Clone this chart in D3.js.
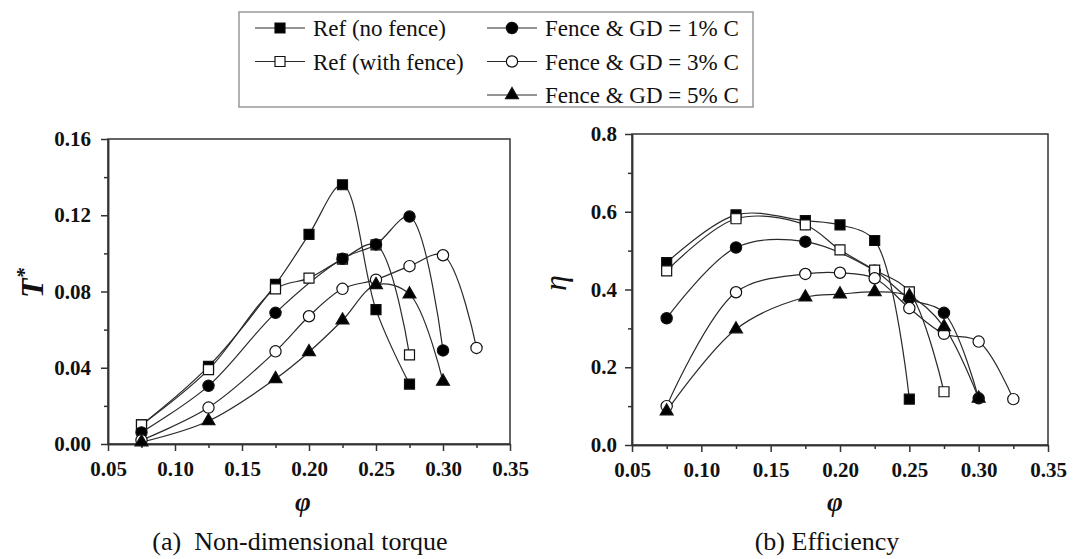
<!DOCTYPE html>
<html>
<head>
<meta charset="utf-8">
<script src="https://cdn.jsdelivr.net/npm/d3@7"></script>
<style>
  body { margin: 0; background: #fff; }
  text { font-family: "Liberation Serif", "Times New Roman", serif; fill: #111; }
</style>
</head>
<body>
<svg id="chart" width="1083" height="559"></svg>
<script>
// ---- data ----
var seriesNames = ["Ref (no fence)", "Ref (with fence)", "Fence & GD = 1% C", "Fence & GD = 3% C", "Fence & GD = 5% C"];

// (a) non-dimensional torque
var torquePhiNoFence = [0.075, 0.125, 0.175, 0.2, 0.225, 0.25, 0.275];
var torqueNoFence    = [0.010, 0.0407, 0.0837, 0.110, 0.136, 0.0705, 0.0314];
var torquePhiWithFence = [0.075, 0.125, 0.175, 0.2, 0.225, 0.25, 0.275];
var torqueWithFence    = [0.010, 0.039, 0.0814, 0.0870, 0.097, 0.1045, 0.0468];
var torquePhiGD1 = [0.075, 0.125, 0.175, 0.225, 0.25, 0.275, 0.3];
var torqueGD1    = [0.0061, 0.0305, 0.0688, 0.0972, 0.1047, 0.1193, 0.0491];
var torquePhiGD3 = [0.075, 0.125, 0.175, 0.2, 0.225, 0.25, 0.275, 0.3, 0.325];
var torqueGD3    = [0.002, 0.0191, 0.0486, 0.067, 0.0814, 0.0862, 0.0933, 0.099, 0.0504];
var torquePhiGD5 = [0.075, 0.125, 0.175, 0.2, 0.225, 0.25, 0.275, 0.3];
var torqueGD5    = [0.001, 0.0121, 0.0342, 0.0483, 0.0649, 0.0835, 0.0786, 0.0328];

// (b) efficiency
var effPhiNoFence = [0.075, 0.125, 0.175, 0.2, 0.225, 0.25];
var effNoFence    = [0.469, 0.592, 0.577, 0.566, 0.526, 0.118];
var effPhiWithFence = [0.075, 0.125, 0.175, 0.2, 0.225, 0.25, 0.275];
var effWithFence    = [0.448, 0.582, 0.566, 0.502, 0.450, 0.394, 0.137];
var effPhiGD1 = [0.075, 0.125, 0.175, 0.225, 0.25, 0.275, 0.3];
var effGD1    = [0.326, 0.508, 0.523, 0.448, 0.377, 0.340, 0.120];
var effPhiGD3 = [0.075, 0.125, 0.175, 0.2, 0.225, 0.25, 0.275, 0.3, 0.325];
var effGD3    = [0.100, 0.393, 0.440, 0.443, 0.429, 0.352, 0.286, 0.266, 0.118];
var effPhiGD5 = [0.075, 0.125, 0.175, 0.2, 0.225, 0.25, 0.275, 0.3];
var effGD5    = [0.087, 0.298, 0.380, 0.388, 0.394, 0.383, 0.304, 0.120];

var phiTicks = [0.05, 0.10, 0.15, 0.20, 0.25, 0.30, 0.35];
var phiMinor = [0.075, 0.125, 0.175, 0.225, 0.275, 0.325];
var torqueTicks = [0.00, 0.04, 0.08, 0.12, 0.16];
var torqueMinor = [0.02, 0.06, 0.10, 0.14];
var effTicks = [0.0, 0.2, 0.4, 0.6, 0.8];
var effMinor = [0.1, 0.3, 0.5, 0.7];

// marker style per series: symbol + filled?
var markers = [
  {sym: d3.symbolSquare, size: 100, fill: "#000"},
  {sym: d3.symbolSquare, size: 100, fill: "#fff"},
  {sym: d3.symbolCircle, size: 100, fill: "#000"},
  {sym: d3.symbolCircle, size: 100, fill: "#fff"},
  {sym: d3.symbolTriangle, size: 72, fill: "#000"}
];

function zipSeries(phis, vals) {
  return phis.map(function(p, i) { return {x: p, y: vals[i]}; });
}

var torqueSeries = [
  zipSeries(torquePhiNoFence, torqueNoFence),
  zipSeries(torquePhiWithFence, torqueWithFence),
  zipSeries(torquePhiGD1, torqueGD1),
  zipSeries(torquePhiGD3, torqueGD3),
  zipSeries(torquePhiGD5, torqueGD5)
];
var effSeries = [
  zipSeries(effPhiNoFence, effNoFence),
  zipSeries(effPhiWithFence, effWithFence),
  zipSeries(effPhiGD1, effGD1),
  zipSeries(effPhiGD3, effGD3),
  zipSeries(effPhiGD5, effGD5)
];

var svg = d3.select("#chart");
var axisColor = "#333";

function drawPanel(opts) {
  var x = d3.scaleLinear().domain([0.05, 0.35]).range([opts.left, opts.right]);
  var y = d3.scaleLinear().domain(opts.yDomain).range([opts.bottom, opts.top]);
  var g = svg.append("g");

  // frame
  g.append("rect")
    .attr("x", opts.left).attr("y", opts.top)
    .attr("width", opts.right - opts.left).attr("height", opts.bottom - opts.top)
    .attr("fill", "none").attr("stroke", axisColor).attr("stroke-width", 1.5);

  // x axis
  g.append("g").attr("transform", "translate(0," + opts.bottom + ")")
    .call(d3.axisBottom(x).tickValues(phiTicks).tickFormat(d3.format(".2f")).tickSize(7).tickSizeOuter(0).tickPadding(10));
  g.append("g").attr("transform", "translate(0," + opts.bottom + ")")
    .call(d3.axisBottom(x).tickValues(phiMinor).tickFormat("").tickSize(4).tickSizeOuter(0));

  // y axis
  g.append("g").attr("transform", "translate(" + opts.left + ",0)")
    .call(d3.axisLeft(y).tickValues(opts.yTicks).tickFormat(d3.format(opts.yFmt)).tickSize(7).tickSizeOuter(0).tickPadding(opts.yPad));
  g.append("g").attr("transform", "translate(" + opts.left + ",0)")
    .call(d3.axisLeft(y).tickValues(opts.yMinor).tickFormat("").tickSize(4).tickSizeOuter(0));

  g.selectAll(".domain").attr("stroke", axisColor).attr("stroke-width", 1.5);
  g.selectAll(".tick line").attr("stroke", axisColor).attr("stroke-width", 1.5);
  g.selectAll(".tick text")
    .style("font-family", '"Liberation Serif", serif')
    .style("font-size", "21px").style("font-weight", "bold").attr("fill", "#111");

  // curves
  var line = d3.line()
    .x(function(d) { return x(d.x); })
    .y(function(d) { return y(d.y); })
    .curve(d3.curveCatmullRom.alpha(0.5));

  opts.series.forEach(function(s) {
    g.append("path").attr("d", line(s))
      .attr("fill", "none").attr("stroke", "#2a2a2a").attr("stroke-width", 1.2);
  });

  // markers
  opts.order.forEach(function(k) {
    var m = markers[k];
    g.selectAll(null).data(opts.series[k]).enter().append("path")
      .attr("d", d3.symbol().type(m.sym).size(m.size))
      .attr("transform", function(d) { return "translate(" + x(d.x) + "," + y(d.y) + ")"; })
      .attr("fill", m.fill).attr("stroke", "#111").attr("stroke-width", 1.2);
  });

  // x label
  g.append("text")
    .attr("x", opts.phiX).attr("y", 511)
    .attr("text-anchor", "middle")
    .style("font-size", "27px").style("font-style", "italic").style("font-weight", "bold")
    .text("φ");

  // caption
  g.append("text")
    .attr("x", opts.capX).attr("y", 550)
    .attr("text-anchor", "middle")
    .style("font-size", "26px").style("white-space", "pre")
    .text(opts.caption);

  return g;
}

drawPanel({
  left: 108, right: 510, top: 139, bottom: 444,
  yDomain: [0, 0.16], yTicks: torqueTicks, yMinor: torqueMinor, yFmt: ".2f", yPad: 10,
  series: torqueSeries, order: [0, 1, 2, 3, 4],
  phiX: 303, capX: 300, caption: "(a)  Non-dimensional torque"
});

drawPanel({
  left: 632, right: 1048, top: 134, bottom: 445,
  yDomain: [0, 0.8], yTicks: effTicks, yMinor: effMinor, yFmt: ".1f", yPad: 8,
  series: effSeries, order: [0, 2, 1, 3, 4],
  phiX: 835, capX: 827, caption: "(b) Efficiency"
});

// y labels
var tl = svg.append("text")
  .attr("transform", "translate(43,283) rotate(-90)")
  .attr("text-anchor", "middle")
  .style("font-size", "32px").style("font-style", "italic").style("font-weight", "bold");
tl.append("tspan").text("T");
tl.append("tspan").attr("dy", -12).style("font-size", "21px").text("*");

svg.append("text")
  .attr("transform", "translate(566,283) rotate(-90)")
  .attr("text-anchor", "middle")
  .style("font-size", "32px").style("font-style", "italic")
  .text("η");

// legend
var legend = svg.append("g");
legend.append("rect")
  .attr("x", 239).attr("y", 12).attr("width", 514).attr("height", 95)
  .attr("fill", "#fff").attr("stroke", "#999").attr("stroke-width", 1.5);

var legendPos = [
  {lx: 255, row: 0}, {lx: 255, row: 1},
  {lx: 487, row: 0}, {lx: 487, row: 1}, {lx: 487, row: 2}
];
var rowY = [28, 61.5, 95];

seriesNames.forEach(function(name, i) {
  var p = legendPos[i], yy = rowY[p.row], m = markers[i];
  legend.append("line")
    .attr("x1", p.lx).attr("x2", p.lx + 50).attr("y1", yy).attr("y2", yy)
    .attr("stroke", "#2a2a2a").attr("stroke-width", 1.2);
  legend.append("path")
    .attr("d", d3.symbol().type(m.sym).size(m.size)())
    .attr("transform", "translate(" + (p.lx + 25) + "," + yy + ")")
    .attr("fill", m.fill).attr("stroke", "#111").attr("stroke-width", 1.2);
  legend.append("text")
    .attr("x", p.lx + 58).attr("y", yy + 8)
    .style("font-size", "23px")
    .text(name);
});
</script>
</body>
</html>
